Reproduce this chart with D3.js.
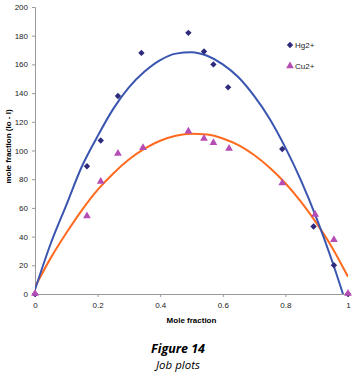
<!doctype html>
<html>
  <head>
    <meta charset="utf-8">
    <title>Job plots</title>
    <script src="https://cdnjs.cloudflare.com/ajax/libs/d3/7.8.5/d3.min.js"></script>
    <style>
      body { margin: 0; background: #fff; }
      svg { display: block; }
    </style>
  </head>
  <body>
    <div id="chart"></div>
    <script>
      // measured points
      const hgX = [0, 0.166, 0.21, 0.265, 0.34, 0.49, 0.54, 0.57, 0.617, 0.79, 0.89, 0.955, 1];
      const hgY = [0, 89, 107, 138, 168, 182, 169, 160, 144, 101, 47, 20, 0];
      const cuX = [0, 0.166, 0.21, 0.265, 0.345, 0.49, 0.54, 0.57, 0.62, 0.79, 0.895, 0.955, 1];
      const cuY = [0, 54, 78, 97.5, 101.5, 113, 108, 105, 101, 77, 55, 37.5, 0];

      // trend lines
      const trendX = [0, 0.05, 0.1, 0.15, 0.2, 0.25, 0.3, 0.35, 0.4, 0.45, 0.5, 0.55, 0.6, 0.65, 0.7, 0.75, 0.8, 0.85, 0.9, 0.95, 1];
      const hgTrend = [3, 35, 62, 89, 110, 129, 144, 155, 163, 167.5, 168.5, 166, 160, 151, 138, 122, 102, 79, 52.5, 22.5, -11];
      const cuTrend = [5, 25, 42.5, 58.5, 72.5, 84, 93.7, 101.3, 106.8, 110.3, 111.7, 111.1, 108.4, 103.7, 96.9, 88, 77.2, 64.2, 49.2, 32.1, 12];

      const xTicks = [0, 0.2, 0.4, 0.6, 0.8, 1];
      const yTicks = [0, 20, 40, 60, 80, 100, 120, 140, 160, 180, 200];

      const width = 356, height = 373;
      const margin = {top: 7, right: 8, bottom: 79, left: 35};

      const svg = d3.select('#chart').append('svg')
        .attr('width', width)
        .attr('height', height);

      const x = d3.scaleLinear().domain([0, 1]).range([margin.left, width - margin.right]);
      const y = d3.scaleLinear().domain([0, 200]).range([height - margin.bottom, margin.top]);

      svg.append('clipPath').attr('id', 'plot')
        .append('rect')
        .attr('x', margin.left).attr('y', margin.top)
        .attr('width', width - margin.left - margin.right)
        .attr('height', height - margin.top - margin.bottom);

      // axes
      const xAxis = svg.append('g')
        .attr('transform', `translate(0,${y(0)})`)
        .call(d3.axisBottom(x).tickValues(xTicks).tickFormat(d3.format('')).tickSize(3).tickPadding(5));
      const yAxis = svg.append('g')
        .attr('transform', `translate(${x(0)},0)`)
        .call(d3.axisLeft(y).tickValues(yTicks).tickSize(3).tickPadding(4));

      [xAxis, yAxis].forEach(a => {
        a.select('.domain').attr('stroke', '#9a9a9a');
        a.selectAll('.tick line').attr('stroke', '#9a9a9a');
        a.selectAll('.tick text')
          .attr('fill', '#222')
          .style('font-family', 'Liberation Sans, Arial, sans-serif')
          .style('font-size', '8px');
      });

      // trend lines
      const line = d3.line()
        .x(d => x(d[0]))
        .y(d => y(d[1]))
        .curve(d3.curveMonotoneX);

      const lines = svg.append('g').attr('clip-path', 'url(#plot)');
      lines.append('path')
        .datum(trendX.map((v, i) => [v, cuTrend[i]]))
        .attr('d', line)
        .attr('fill', 'none')
        .attr('stroke', '#ff6a1f')
        .attr('stroke-width', 2);
      lines.append('path')
        .datum(trendX.map((v, i) => [v, hgTrend[i]]))
        .attr('d', line)
        .attr('fill', 'none')
        .attr('stroke', '#3a55b0')
        .attr('stroke-width', 2);

      // markers
      const diamond = d3.symbol().type(d3.symbolDiamond2).size(26);
      const triangle = d3.symbol().type(d3.symbolTriangle).size(26);

      svg.append('g').selectAll('path')
        .data(hgX.map((v, i) => [v, hgY[i]]))
        .join('path')
        .attr('d', diamond)
        .attr('transform', d => `translate(${x(d[0])},${y(d[1])})`)
        .attr('fill', '#2e2b7c');

      svg.append('g').selectAll('path')
        .data(cuX.map((v, i) => [v, cuY[i]]))
        .join('path')
        .attr('d', triangle)
        .attr('transform', d => `translate(${x(d[0])},${y(d[1]) - 0.5})`)
        .attr('fill', '#b54db5');

      // legend
      const legend = svg.append('g')
        .style('font-family', 'Liberation Sans, Arial, sans-serif')
        .style('font-size', '8px');
      legend.append('path').attr('d', diamond).attr('transform', 'translate(290,45)').attr('fill', '#2e2b7c');
      legend.append('text').attr('x', 295).attr('y', 48).attr('fill', '#222').text('Hg2+');
      legend.append('path').attr('d', triangle).attr('transform', 'translate(290,66)').attr('fill', '#b54db5');
      legend.append('text').attr('x', 295).attr('y', 69).attr('fill', '#222').text('Cu2+');

      // axis titles
      svg.append('text')
        .attr('x', (x(0) + x(1)) / 2)
        .attr('y', 323)
        .attr('text-anchor', 'middle')
        .style('font-family', 'Liberation Sans, Arial, sans-serif')
        .style('font-size', '8px')
        .style('font-weight', 'bold')
        .text('Mole fraction');

      svg.append('text')
        .attr('transform', `translate(11,${(y(0) + y(200)) / 2 - 4}) rotate(-90)`)
        .attr('text-anchor', 'middle')
        .style('font-family', 'Liberation Sans, Arial, sans-serif')
        .style('font-size', '8px')
        .style('font-weight', 'bold')
        .text('mole fraction (Io - I)');

      // caption
      svg.append('text')
        .attr('x', 178).attr('y', 353)
        .attr('text-anchor', 'middle')
        .style('font-family', 'Open Sans, sans-serif')
        .style('font-size', '12.5px')
        .style('font-weight', 'bold')
        .style('font-style', 'italic')
        .text('Figure 14');
      svg.append('text')
        .attr('x', 178).attr('y', 369)
        .attr('text-anchor', 'middle')
        .style('font-family', 'Open Sans, sans-serif')
        .style('font-size', '11.5px')
        .style('font-style', 'italic')
        .text('Job plots');
    </script>
  </body>
</html>
